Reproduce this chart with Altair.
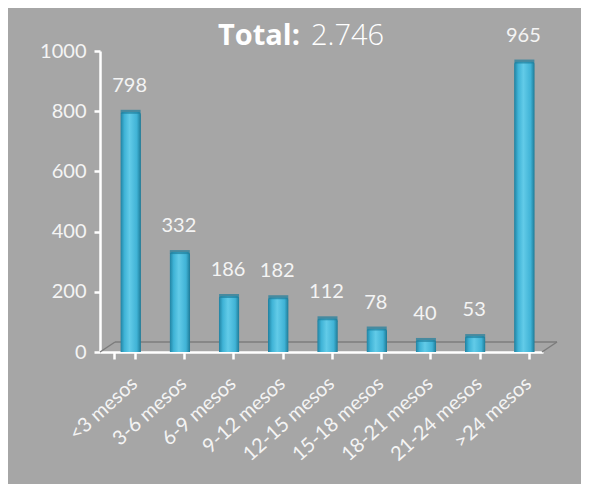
import altair as alt
import pandas as pd

categories = ["<3 mesos", "3-6 mesos", "6-9 mesos", "9-12 mesos", "12-15 mesos",
              "15-18 mesos", "18-21 mesos", "21-24 mesos", ">24 mesos"]
values = [798, 332, 186, 182, 112, 78, 40, 53, 965]
title_bold = "Total:"
title_value = "2.746"

df = pd.DataFrame({"cat": categories, "val": values})

BG = "#a6a6a6"
TXT = "#f4f4f4"

x = alt.X("cat:N", sort=categories, title=None,
          scale=alt.Scale(paddingInner=0.58, paddingOuter=0.29),
          axis=alt.Axis(labelAngle=-42, labelFont="Lato", labelFontSize=20,
                        labelColor=TXT, domainColor="white", domainWidth=2.5,
                        tickColor="white", tickWidth=2.5, tickSize=7,
                        tickBand="extent", labelPadding=14, labelOffset=3))
y = alt.Y("val:Q", title=None,
          scale=alt.Scale(domain=[0, 1000], nice=False),
          axis=alt.Axis(values=[0, 200, 400, 600, 800, 1000], grid=False, format="d",
                        labelFont="Lato", labelFontSize=20, labelColor=TXT,
                        domainColor="white", domainWidth=2.5, tickColor="white",
                        tickWidth=2.5, tickSize=6, labelPadding=8))

grad = alt.Gradient(
    gradient="linear", x1=0, x2=1, y1=0, y2=0,
    stops=[alt.GradientStop(color="#1f7f9e", offset=0),
           alt.GradientStop(color="#3fb3d6", offset=0.2),
           alt.GradientStop(color="#62cbe8", offset=0.45),
           alt.GradientStop(color="#40b3d6", offset=0.8),
           alt.GradientStop(color="#1c7894", offset=1)])

base = alt.Chart(df)

floor_df = pd.DataFrame({"k": [0]})
floor_color = "#7c7c7c"
floor_back = alt.Chart(floor_df).mark_rule(color=floor_color, strokeWidth=1.5).encode(
    x=alt.value(15), x2=alt.value(457), y=alt.value(291))
floor_left = alt.Chart(floor_df).mark_rule(color=floor_color, strokeWidth=1.5).encode(
    x=alt.value(0), x2=alt.value(15), y=alt.value(301), y2=alt.value(291))
floor_right = alt.Chart(floor_df).mark_rule(color=floor_color, strokeWidth=1.5).encode(
    x=alt.value(442), x2=alt.value(457), y=alt.value(301), y2=alt.value(291))

bars = base.mark_bar(color=grad, xOffset=6, cornerRadiusTopLeft=3,
                     cornerRadiusTopRight=3).encode(x=x, y=y)

caps = base.mark_tick(color="#1f7f9c", thickness=4, size=20, xOffset=6).encode(
    x=alt.X("cat:N", sort=categories), y="val:Q")

labels = base.mark_text(dy=-26, dx=5, font="Lato", fontSize=20, color=TXT).encode(
    x=alt.X("cat:N", sort=categories), y="val:Q", text="val:Q")

t1 = alt.Chart(pd.DataFrame({"t": [title_bold]})).mark_text(
    font="Open Sans", fontWeight="bold", fontSize=29, color="white",
    align="right", baseline="alphabetic").encode(
    x=alt.value(200), y=alt.value(-6), text="t:N")
t2 = alt.Chart(pd.DataFrame({"t": [title_value]})).mark_text(
    font="Open Sans", fontWeight=300, fontSize=29, color="white",
    align="left", baseline="alphabetic").encode(
    x=alt.value(211), y=alt.value(-6), text="t:N")

chart = alt.layer(floor_back, floor_left, floor_right, bars, caps, labels, t1, t2).properties(
    width=443, height=301,
    autosize=alt.AutoSizeParams(type="none"),
    padding={"left": 92, "top": 43, "right": 38, "bottom": 132},
    background=BG,
).configure_view(stroke=None)

chart.save("out.html", embed_options={"renderer": "svg", "actions": False})
